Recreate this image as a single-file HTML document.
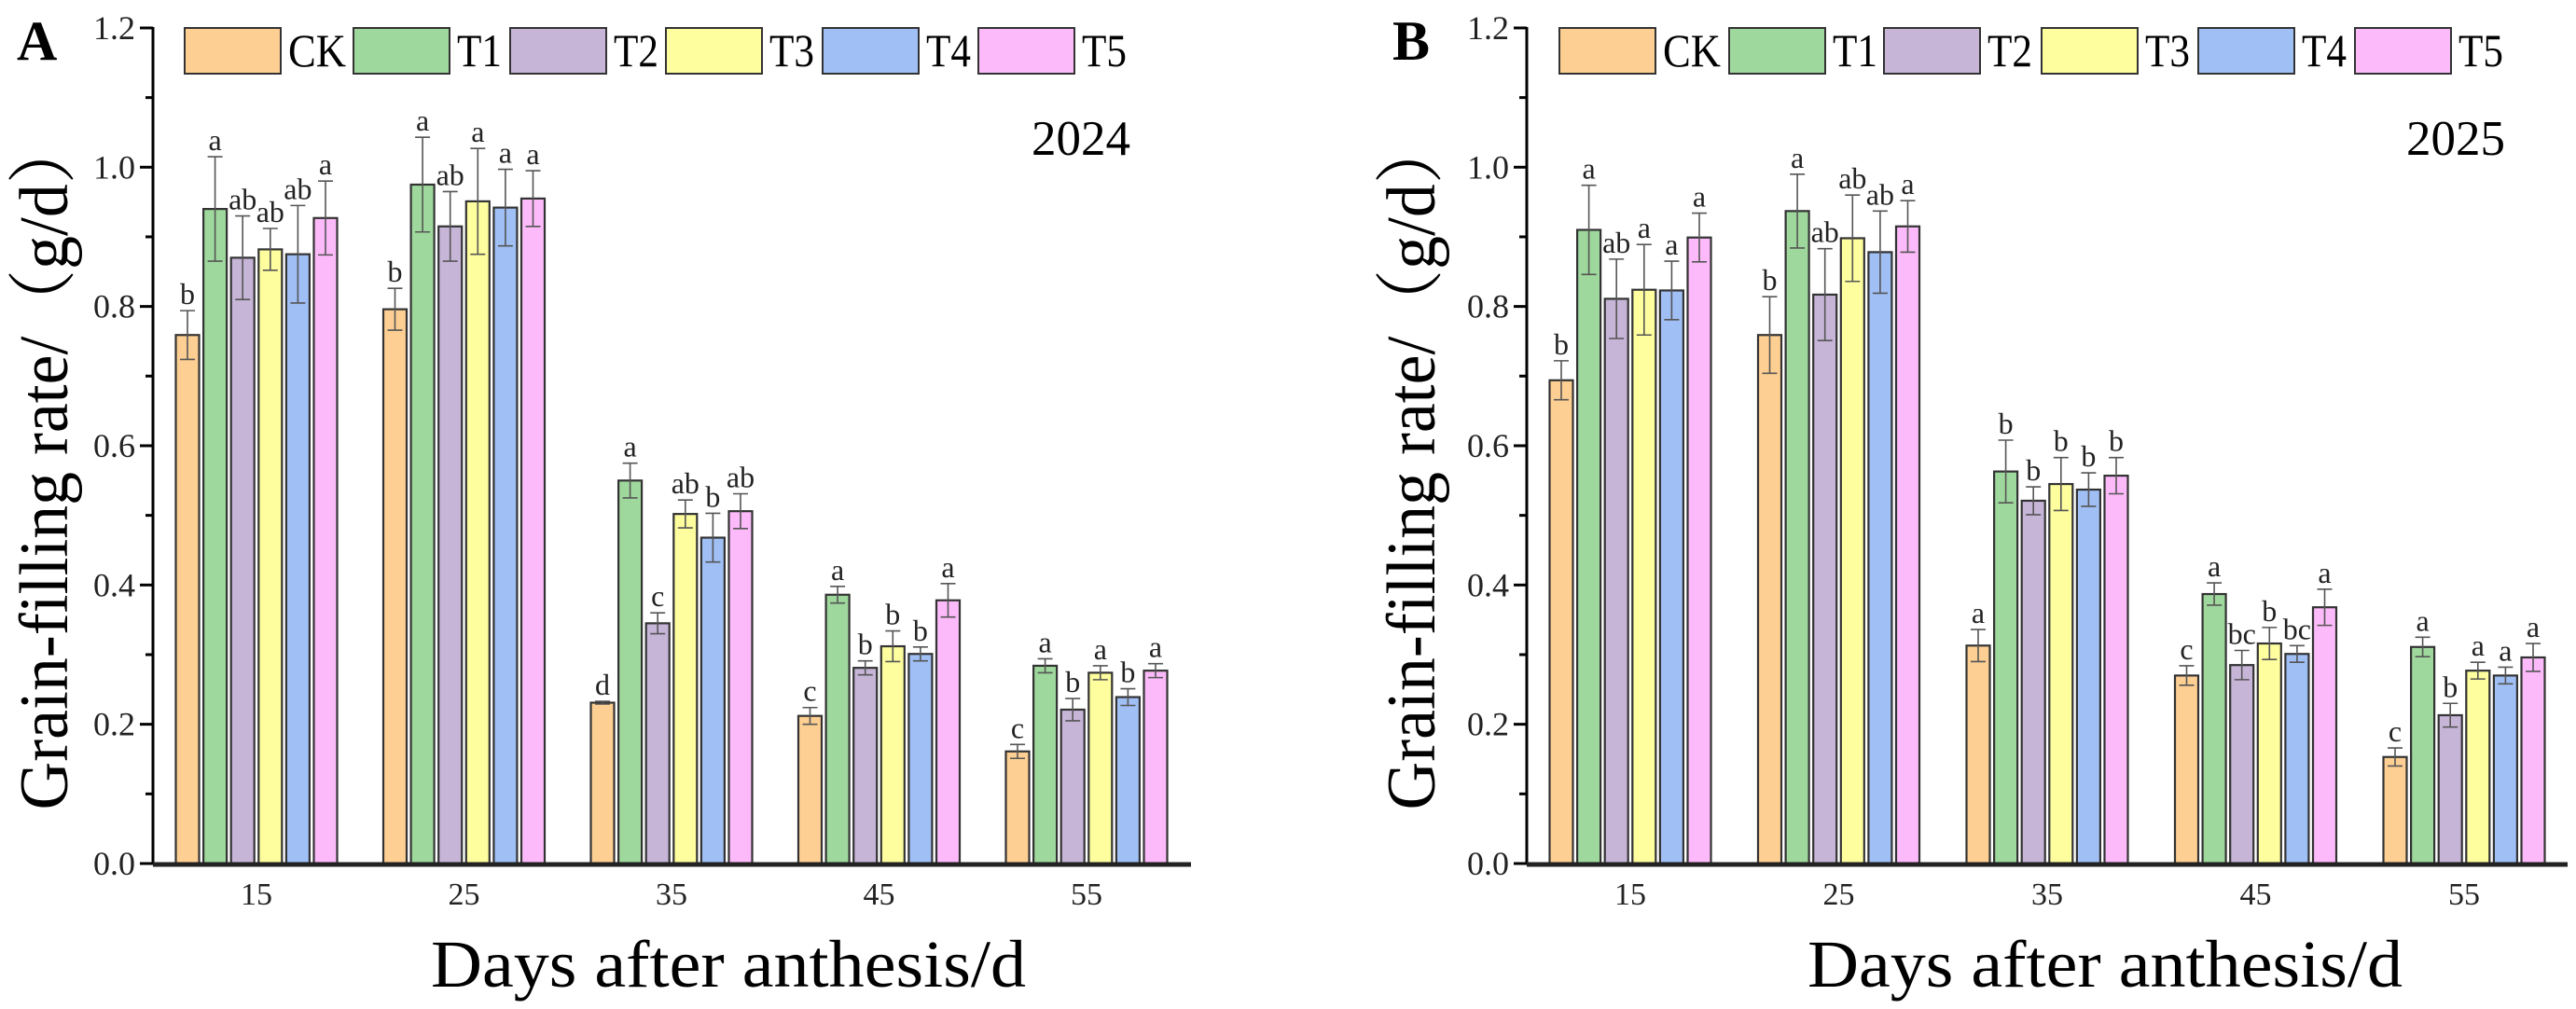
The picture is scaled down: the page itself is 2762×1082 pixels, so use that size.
<!DOCTYPE html>
<html><head><meta charset="utf-8"><style>
html,body{margin:0;padding:0;background:#fff;}
svg{display:block;font-family:"Liberation Serif","Noto Serif CJK SC",serif;}
</style></head><body>
<svg id="chart" width="2762" height="1082" viewBox="0 0 2762 1082"></svg>
<script>
const categories = ["15","25","35","45","55"];
const seriesNames = ["CK","T1","T2","T3","T4","T5"];
const yTicks = ["0.0","0.2","0.4","0.6","0.8","1.0","1.2"];
// 2024 panel A
const valsA_CK = [0.759,0.796,0.231,0.212,0.161];
const valsA_T1 = [0.940,0.975,0.550,0.386,0.284];
const valsA_T2 = [0.870,0.915,0.345,0.281,0.221];
const valsA_T3 = [0.882,0.951,0.502,0.312,0.274];
const valsA_T4 = [0.875,0.942,0.468,0.301,0.239];
const valsA_T5 = [0.927,0.955,0.506,0.378,0.277];
const errA_CK = [0.035,0.030,0.002,0.012,0.010];
const errA_T1 = [0.075,0.068,0.025,0.012,0.010];
const errA_T2 = [0.060,0.050,0.015,0.010,0.016];
const errA_T3 = [0.030,0.076,0.020,0.022,0.010];
const errA_T4 = [0.070,0.055,0.035,0.010,0.012];
const errA_T5 = [0.053,0.040,0.025,0.024,0.010];
const lettersA = [["b","b","d","c","c"],["a","a","a","a","a"],["ab","ab","c","b","b"],["ab","a","ab","b","a"],["ab","a","b","b","b"],["a","a","ab","a","a"]];
// 2025 panel B
const valsB_CK = [0.694,0.759,0.313,0.270,0.153];
const valsB_T1 = [0.910,0.937,0.563,0.387,0.311];
const valsB_T2 = [0.811,0.817,0.521,0.285,0.213];
const valsB_T3 = [0.824,0.898,0.545,0.316,0.277];
const valsB_T4 = [0.823,0.878,0.537,0.301,0.270];
const valsB_T5 = [0.899,0.915,0.557,0.368,0.296];
const errB_CK = [0.028,0.055,0.023,0.014,0.013];
const errB_T1 = [0.064,0.053,0.045,0.016,0.014];
const errB_T2 = [0.057,0.066,0.020,0.021,0.017];
const errB_T3 = [0.065,0.062,0.038,0.023,0.012];
const errB_T4 = [0.042,0.059,0.024,0.012,0.012];
const errB_T5 = [0.035,0.037,0.026,0.026,0.020];
const lettersB = [["b","b","a","c","c"],["a","a","b","a","a"],["ab","ab","b","bc","b"],["a","ab","b","b","a"],["a","ab","b","bc","a"],["a","a","b","a","a"]];

const colors = ["#fecf93","#9fd89d","#c7b5d8","#fefe9f","#9fbff5","#fdbafa"];
const NS="http://www.w3.org/2000/svg";
const svg=document.getElementById('chart');
function mk(tag,attrs,parent,text){const e=document.createElementNS(NS,tag);for(const k in attrs)e.setAttribute(k,attrs[k]);if(text!==undefined)e.textContent=text;(parent||svg).appendChild(e);return e;}

function panel(p){
  const g=mk('g',{});
  
  
  const y0=926, unit=746.7;
  const yS=v=>y0-v*unit;
  const xS=i=>p.cx0+i*p.step;
  // panel letter
  const L=mk('text',{x:p.letterX,y:64,'font-size':60,'font-weight':'bold'},g,p.id);
  
  
  // y axis ticks
  for(let k=0;k<=12;k++){
    const v=k*0.1, y=yS(v), major=k%2===0;
    const t=mk('line',{x1:p.ax-(major?14:8),x2:p.ax,y1:y,y2:y,stroke:'#000','stroke-width':3},g);
    
    
    if(major){
      const tl=mk('text',{x:p.ax-19,y:y+12,'font-size':36,'text-anchor':'end',fill:'#222'},g,yTicks[k/2]);
      
      
    }
  }
  const ya=mk('line',{x1:p.ax,x2:p.ax,y1:yS(1.2)-1,y2:y0,stroke:'#000','stroke-width':3},g);
  
  
  // bars
  const offs=[-74,-44.4,-14.8,14.8,44.4,74];
  for(let s=0;s<6;s++){
    for(let i=0;i<categories.length;i++){
      const v=p.vals[s][i], e=p.errs[s][i];
      const cx=xS(i)+offs[s];
      const b=mk('rect',{x:cx-12.5,y:yS(v),width:25,height:y0-yS(v),fill:colors[s],stroke:'#333','stroke-width':2.2},g);
      
      
      const eb=mk('path',{d:`M${cx},${yS(v-e)}V${yS(v+e)}M${cx-8},${yS(v+e)}H${cx+8}M${cx-8},${yS(v-e)}H${cx+8}`,stroke:'#555','stroke-width':1.6,fill:'none'},g);
      
      
      const lt=mk('text',{x:cx,y:yS(v+e)-7,'font-size':32,'text-anchor':'middle',fill:'#222'},g,p.letters[s][i]);
      
      
    }
  }
  const xa=mk('line',{x1:p.ax,x2:p.axEnd,y1:y0+1,y2:y0+1,stroke:'#222','stroke-width':5},g);
  
  
  for(let i=0;i<categories.length;i++){
    const xl=mk('text',{x:xS(i),y:970,'font-size':34,'text-anchor':'middle',fill:'#222'},g,categories[i]);
    
    
  }
  const xt=mk('text',{x:p.xTitleX,y:1058,'font-size':72,'text-anchor':'middle',textLength:638,lengthAdjust:'spacingAndGlyphs'},g,'Days after anthesis/d');
  
  
  const yt=mk('text',{x:0,y:0,'font-size':74,'text-anchor':'middle',textLength:743,lengthAdjust:'spacingAndGlyphs',transform:`translate(${p.yTitleX},497) rotate(-90)`},g,'Grain-filling rate/（g/d）');
  
  
  const yr=mk('text',{x:p.yearX,y:166,'font-size':53,'text-anchor':'end'},g,p.year);
  
  
  // legend
  for(let s=0;s<6;s++){
    const lg=mk('g',{},g);
    
    
    const px=p.legX[s];
    mk('rect',{x:px,y:30,width:103,height:49,fill:colors[s],stroke:'#333','stroke-width':2},lg);
    mk('text',{x:px+111,y:71,'font-size':50,textLength:s===0?62:48,lengthAdjust:'spacingAndGlyphs'},lg,seriesNames[s]);
  }
}
panel({id:'A',ax:164,axEnd:1277,cx0:275,step:222.5,letterX:18,xTitleX:781,yTitleX:72,yearX:1212,year:'2024',
  vals:[valsA_CK,valsA_T1,valsA_T2,valsA_T3,valsA_T4,valsA_T5],errs:[errA_CK,errA_T1,errA_T2,errA_T3,errA_T4,errA_T5],letters:lettersA,
  legX:[198,379,547,714,882,1049]});
panel({id:'B',ax:1637,axEnd:2753,cx0:1748,step:223.5,letterX:1493,xTitleX:2257,yTitleX:1538,yearX:2686,year:'2025',
  vals:[valsB_CK,valsB_T1,valsB_T2,valsB_T3,valsB_T4,valsB_T5],errs:[errB_CK,errB_T1,errB_T2,errB_T3,errB_T4,errB_T5],letters:lettersB,
  legX:[1672,1854,2020,2189,2357,2525]});
</script>
</body></html>
